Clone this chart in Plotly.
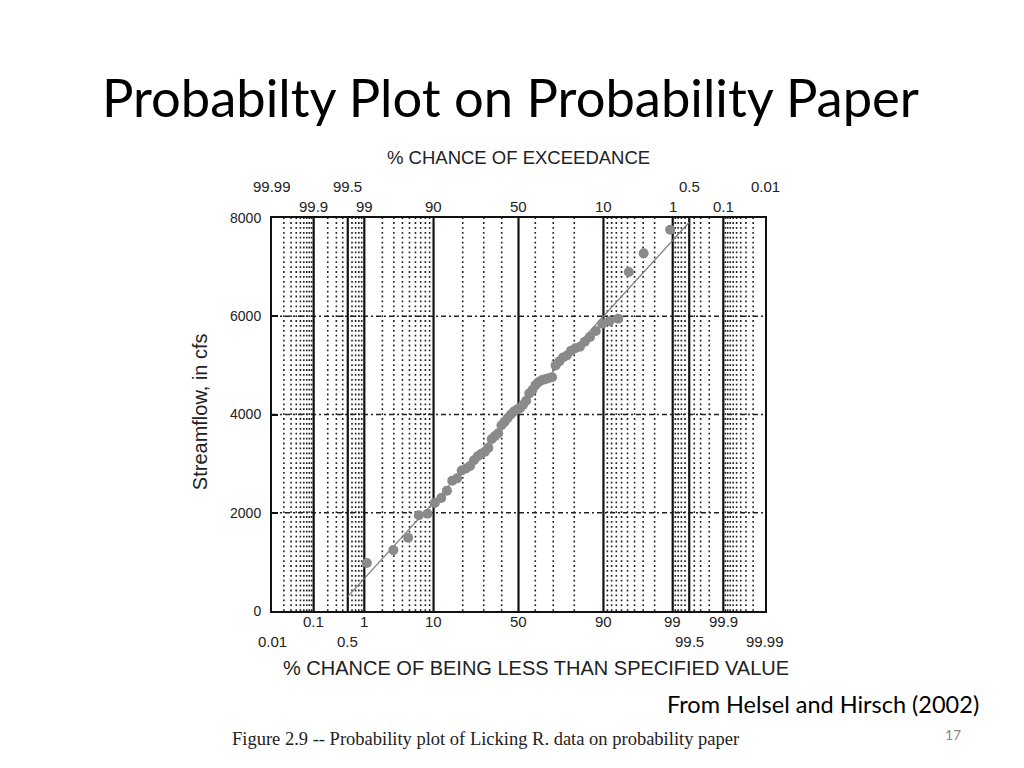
import numpy as np
from statistics import NormalDist
import plotly.graph_objects as go

# ---- data (sorted streamflow values, cfs) ----
streamflow = [977, 1240, 1490, 1950, 1980, 2200, 2300, 2450, 2650, 2700,
              2860, 2900, 2950, 3070, 3150, 3200, 3240, 3320, 3500, 3560,
              3620, 3780, 3850, 3930, 4000, 4060, 4100, 4130, 4200, 4280,
              4430, 4500, 4600, 4660, 4700, 4720, 4740, 4760, 5000, 5080,
              5160, 5200, 5300, 5350, 5380, 5480, 5580, 5700, 5850, 5900,
              5950, 6900, 7280, 7760]

# probability-paper grid (percent non-exceedance)
major_p = [0.1, 0.5, 1, 10, 50, 90, 99, 99.5, 99.9]
minor_p = [0.02, 0.03, 0.04, 0.05, 0.06, 0.07, 0.08, 0.09,
           0.2, 0.3, 0.4, 0.6, 0.7, 0.8, 0.9,
           2, 3, 4, 5, 6, 7, 8, 9, 20, 30, 40, 60, 70, 80,
           91, 92, 93, 94, 95, 96, 97, 98, 99.1, 99.2, 99.3, 99.4,
           99.6, 99.7, 99.8, 99.91, 99.92, 99.93, 99.94, 99.95, 99.96, 99.97, 99.98]
bottom_row1 = ["0.1", "1", "10", "50", "90", "99", "99.9"]
bottom_row2 = ["0.01", "0.5", "99.5", "99.99"]
top_row1 = ["99.9", "99", "90", "50", "10", "1", "0.1"]
top_row2 = ["99.99", "99.5", "0.5", "0.01"]
y_grid = [2000, 4000, 6000]
y_ticks = [0, 2000, 4000, 6000, 8000]
p_min, p_max = 0.01, 99.99
fit_p_range = [0.5, 99.5]

nd = NormalDist()
z = lambda p: nd.inv_cdf(p / 100.0)

n = len(streamflow)
pp = [(i - 0.4) / (n + 0.2) * 100 for i in range(1, n + 1)]
xz = [z(p) for p in pp]
mu = float(np.mean(streamflow))
sd = float(np.std(streamflow, ddof=1))

fig = go.Figure()

shapes = []
for p in minor_p:
    shapes.append(dict(type="line", xref="x", yref="y", x0=z(p), x1=z(p), y0=0, y1=8000,
                       line=dict(color="#222", width=1.6, dash="1.8px,3.1px"), layer="below"))
for yv in y_grid:
    shapes.append(dict(type="line", xref="x", yref="y", x0=z(p_min), x1=z(p_max), y0=yv, y1=yv,
                       line=dict(color="#222", width=1.6, dash="5px,3px,2px,3px"), layer="below"))
for p in major_p:
    shapes.append(dict(type="line", xref="x", yref="y", x0=z(p), x1=z(p), y0=0, y1=8000,
                       line=dict(color="#111", width=2.2), layer="below"))

# fitted line
fz = [z(fit_p_range[0]), z(fit_p_range[1])]
fig.add_trace(go.Scatter(x=fz, y=[mu + sd * v for v in fz], mode="lines",
                         line=dict(color="#7a7a7a", width=1.2), hoverinfo="skip", showlegend=False))
fig.add_trace(go.Scatter(x=xz, y=streamflow, mode="markers",
                         marker=dict(color="#8a8a8a", size=10, line=dict(width=0)),
                         showlegend=False))

ann = []
C = dict(showarrow=False, xanchor="center", yanchor="middle")
tick_font = dict(family="Liberation Sans, Arial", size=15, color="#222")
for s in bottom_row1:
    ann.append(dict(x=z(float(s)), y=-0.027, xref="x", yref="paper", text=s, font=tick_font, **C))
for s in bottom_row2:
    ann.append(dict(x=z(float(s)), y=-0.078, xref="x", yref="paper", text=s, font=tick_font, **C))
for s in top_row1:
    ann.append(dict(x=z(100 - float(s)), y=1.028, xref="x", yref="paper", text=s, font=tick_font, **C))
for s in top_row2:
    ann.append(dict(x=z(100 - float(s)), y=1.081, xref="x", yref="paper", text=s, font=tick_font, **C))

ann.append(dict(x=0.5, y=1.155, xref="paper", yref="paper", text="% CHANCE OF EXCEEDANCE",
                font=dict(family="Liberation Sans, Arial", size=18.5, color="#222"), **C))
ann.append(dict(x=0.535, y=-0.145, xref="paper", yref="paper",
                text="% CHANCE OF BEING LESS THAN SPECIFIED VALUE",
                font=dict(family="Liberation Sans, Arial", size=20, color="#222"), **C))
ann.append(dict(x=-0.146, y=0.506, xref="paper", yref="paper", text="Streamflow, in cfs",
                textangle=-90, font=dict(family="Liberation Sans, Arial", size=20, color="#222"), **C))
ann.append(dict(x=0.484, y=1.308, xref="paper", yref="paper", text="Probabilty Plot on Probability Paper",
                font=dict(family="Lato", size=52.5, color="#000"), **C))
ann.append(dict(x=0.434, y=-0.326, xref="paper", yref="paper",
                text="Figure 2.9 -- Probability plot of Licking R. data on probability paper",
                font=dict(family="Liberation Serif", size=18.5, color="#222"), **C))
ann.append(dict(x=1.118, y=-0.237, xref="paper", yref="paper", text="From Helsel and Hirsch (2002)",
                font=dict(family="Lato", size=23.5, color="#000"), **C))
ann.append(dict(x=1.381, y=-0.313, xref="paper", yref="paper", text="17",
                font=dict(family="Lato", size=14, color="#888"), **C))

fig.update_layout(
    width=1008, height=752,
    margin=dict(l=264, r=251, t=210, b=149),
    paper_bgcolor="white", plot_bgcolor="white",
    shapes=shapes, annotations=ann,
    xaxis=dict(range=[z(p_min), z(p_max)], showgrid=False, zeroline=False, showticklabels=False,
               ticks="", showline=True, mirror=True, linecolor="#111", linewidth=2),
    yaxis=dict(range=[0, 8000], tickvals=y_ticks, showgrid=False, zeroline=False,
               ticks="inside", ticklen=6, tickwidth=2, tickcolor="#111",
               tickfont=dict(family="Liberation Sans, Arial", size=14, color="#222"),
               ticklabelstandoff=6,
               showline=True, mirror=True, linecolor="#111", linewidth=2),
)
fig.write_html("out.html")
